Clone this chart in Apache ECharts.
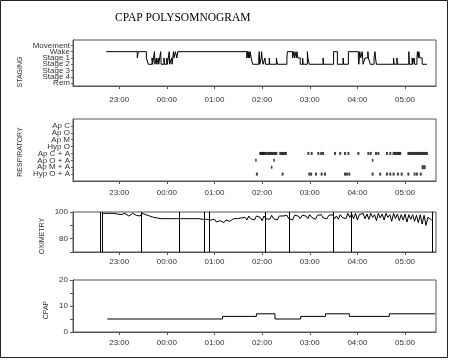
<!DOCTYPE html>
<html><head><meta charset="utf-8">
<script src="https://cdn.jsdelivr.net/npm/echarts@6/dist/echarts.min.js"></script>
<style>html,body{margin:0;padding:0;background:#fff}#c{width:450px;height:360px}</style>
</head><body><div id="c"></div>
<script>
// ---- tick labels (hours relative to midnight) ----
const hourTicks = [-1, 0, 1, 2, 3, 4, 5];
const hourLabels = ['23:00', '00:00', '01:00', '02:00', '03:00', '04:00', '05:00'];

// ---- staging ----
const stageNames = ['Rem', 'Stage 4', 'Stage 3', 'Stage 2', 'Stage 1', 'Wake', 'Movement'];
const stagingTimes = [-1.27,-0.62,-0.60,-0.43,-0.39,-0.31,-0.30,-0.26,-0.25,-0.22,-0.21,-0.18,-0.17,-0.13,-0.12,-0.06,-0.05,0.00,0.01,0.05,0.06,0.10,0.11,0.14,0.15,0.18,0.21,0.23,
  1.68,1.69,1.71,1.72,1.74,1.75,1.77,1.80,1.93,1.94,1.95,1.98,1.99,2.00,2.02,2.06,2.07,2.15,2.16,2.30,2.32,2.52,2.53,2.64,2.65,2.68,2.69,2.72,2.73,2.75,2.80,2.85,2.86,2.95,2.96,2.99,
  3.28,3.29,3.50,3.58,3.70,3.71,3.81,4.02,4.03,4.05,4.07,4.10,4.12,4.16,4.22,4.23,4.27,4.35,4.37,4.38,4.40,4.76,4.77,4.83,4.84,5.08,5.09,5.15,5.16,5.19,5.20,5.25,5.26,5.28,5.29,5.31,5.36,5.46];
const stagingLevels = [5,4,5,4,3,4,3,5,3,4,3,4,3,5,3,4,3,4,3,5,3,4,3,5,4,5,4,5,
  4,5,4,5,4,5,4,3,4,5,3,4,5,4,3,4,3,4,3,4,3,4,5,4,5,4,5,4,5,4,3,4,3,5,4,3,
  4,3,5,3,4,3,5,4,3,5,4,5,3,4,5,4,3,4,5,4,3,4,3,4,3,5,3,4,3,4,3,4,5,4,5,4,3,3];

// ---- respiratory ----
const respNames = ['Hyp O + A', 'Ap M + A', 'Ap O + A', 'Ap C + A', 'Hyp O', 'Ap M', 'Ap O', 'Ap C'];
const apCA = [1.96,1.98,2.00,2.02,2.04,2.07,2.09,2.13,2.15,2.18,2.21,2.24,2.27,2.30,2.38,2.41,2.44,2.47,2.50,2.97,3.04,3.18,3.24,3.28,3.53,3.64,3.74,3.81,4.02,4.23,4.28,4.39,4.44,4.62,4.69,4.76,4.79,4.82,4.85,4.88,4.90,5.07,5.10,5.13,5.16,5.19,5.22,5.25,5.28,5.31,5.34,5.37,5.40,5.43,5.46];
const apOA = [1.87, 2.25, 4.32];
const apMA = [2.20];
const apMABig = [5.39];
const hypOA = [1.89,2.43,2.99,3.03,3.13,3.25,3.32,3.74,3.78,3.83,4.32,4.48,4.62,4.69,4.76,4.85,4.93,5.07,5.20,5.25,5.33];

// ---- oximetry ----
const oxiStart = -1.36;   // first sample (h)
const oxiStep = 0.04;     // sampling interval (h)
const oxiValues = [
  99,98,99,98.5,99,98,99,97.5,98.5,99,98,98.5,99,98,97,98.5,99,98,97.5,98,97,
  99,98.5,98,97.5,97,96.5,96,96,95.5,
  95.5,95,95.5,95,95.5,95,95.5,95,94.5,95,95.5,95,94.5,95,95.5,95,95.5,95,94.5,95,95.5,95,95,94.5,
  95,94.5,95,94,93,94.5,92.5,94,93.5,94.5,92,94,95,93,94.5,95,93.5,95,94,95.5,94,
  96,94,97,95,96.5,94,97,95.5,96,93.5,97,95,96.5,94.5,97.5,95,96,94,97,95.5,97,96,97.5,95,96.5,94,97.5,96,97,95,97.5,96.5,97,95,98,96,97,94.5,97.5,96,98,95.5,97,95,97.5,96,98,95,97,94.5,98,96,97.5,95,
  99,96,98.5,95,99,94,98,96.5,99,95,98.5,94.5,99,96,98,93.5,99,95.5,98.5,94,99,96,98,93,99,95,98.5,93.5,98,94,98.5,92.5,98,94.5,98,93,97.5,92,98,91,97.5,90,96,97,94];
const oxiDropouts = [-1.385, -1.35, -0.53, 0.25, 0.79, 0.88, 2.07, 2.56, 3.50, 3.87, 5.58];

// ---- CPAP ----
const cpapTimes = [-1.25, 1.17, 1.88, 2.27, 2.81, 3.33, 3.83, 4.67, 5.63];
const cpapValues = [5, 6, 7, 5, 6, 7, 6, 7, 7];

// ---------------------------------------------------------------
const FONT = "'Liberation Sans', Arial, sans-serif";
const AX = '#555', TXT = '#333';
const X_MIN = -1.97, X_MAX = 5.65;
const GRID_W = 363;
const grids = [
  {left: 73, top: 40, width: GRID_W, height: 46},
  {left: 73, top: 119, width: GRID_W, height: 62},
  {left: 73, top: 212, width: GRID_W, height: 40},
  {left: 73, top: 280, width: GRID_W, height: 52}
].map(g => Object.assign({show: true, borderColor: AX, borderWidth: 1, backgroundColor: 'transparent'}, g));

function hourFmt(v) {
  const i = hourTicks.indexOf(Math.round(v));
  return (Math.abs(v - Math.round(v)) < 1e-6 && i >= 0) ? hourLabels[i] : '';
}
const xMargins = [10, 8, 6, 7];
const xAxes = grids.map((g, i) => ({
  type: 'value', gridIndex: i, min: X_MIN, max: X_MAX, position: 'bottom',
  splitLine: {show: false},
  axisLine: {show: true, onZero: false, lineStyle: {color: AX}},
  axisTick: {show: true, customValues: hourTicks, length: 3, lineStyle: {color: AX}},
  axisLabel: {customValues: hourTicks, formatter: hourFmt, fontSize: 8, fontFamily: FONT, color: TXT, margin: xMargins[i], interval: 0}
}));

const lbl = (extra) => Object.assign({fontSize: 8, fontFamily: FONT, color: TXT, showMinLabel: true, showMaxLabel: true, hideOverlap: false}, extra);
const idx = n => Array.from({length: n}, (_, i) => i);
const even = n => idx(n).filter(i => i % 2 === 0);
const odd = n => idx(n).filter(i => i % 2 === 1);

// Main y axes (left side). Label sets for the dense category-like axes are split
// between two co-located axes so neighbouring labels are not auto-hidden.
function mainY(gridIndex, min, max, ticks, labels, fmt, tickLen, margin) {
  return {type: 'value', gridIndex, min, max, position: 'left',
    splitLine: {show: false}, axisLine: {show: true, onZero: false, lineStyle: {color: AX}},
    axisTick: {customValues: ticks, length: tickLen, lineStyle: {color: AX}},
    axisLabel: lbl({customValues: labels, formatter: fmt, margin})};
}
function twinY(gridIndex, min, max, labels, fmt, margin) {
  return {type: 'value', gridIndex, min, max, position: 'right', offset: -GRID_W,
    splitLine: {show: false}, axisLine: {show: false, onZero: false},
    axisTick: {show: false},
    axisLabel: lbl({customValues: labels, formatter: fmt, margin, inside: true})};
}
const stageFmt = v => stageNames[Math.round(v)] || '';
const respFmt = v => respNames[Math.round(v)] || '';
const yAxes = [
  mainY(0, -0.45, 6.85, idx(7), even(7), stageFmt, 2, 3),
  mainY(1, -1, 8, idx(8), even(8), respFmt, 2, 3),
  mainY(2, 70, 100, [70, 80, 90, 100], [80, 100], undefined, 3, 5),
  mainY(3, 0, 20, [0, 5, 10, 15, 20], [0, 10, 20], undefined, 3, 5),
  twinY(0, -0.45, 6.85, odd(7), stageFmt, 3),
  twinY(1, -1, 8, odd(8), respFmt, 3)
];

const stagingData = stagingTimes.map((t, i) => [t, stagingLevels[i]]);
const oxiData = oxiValues.map((v, i) => [oxiStart + i * oxiStep, v]);
const cpapData = cpapTimes.map((t, i) => [t, cpapValues[i]]);
const ev = (arr, row) => arr.map(t => [t, row]);
const evStyle = {color: '#111'};

const series = [
  {type: 'line', xAxisIndex: 0, yAxisIndex: 0, data: stagingData, step: 'end', showSymbol: false,
   lineStyle: {color: '#000', width: 1}, animation: false},
  {type: 'scatter', xAxisIndex: 1, yAxisIndex: 1, data: ev(apCA, 3), symbol: 'rect', symbolSize: [2, 3], itemStyle: evStyle, animation: false},
  {type: 'scatter', xAxisIndex: 1, yAxisIndex: 1, data: ev(apOA, 2), symbol: 'rect', symbolSize: [1.5, 3], itemStyle: evStyle, animation: false},
  {type: 'scatter', xAxisIndex: 1, yAxisIndex: 1, data: ev(apMA, 1), symbol: 'rect', symbolSize: [1.5, 3], itemStyle: evStyle, animation: false},
  {type: 'scatter', xAxisIndex: 1, yAxisIndex: 1, data: ev(apMABig, 1), symbol: 'rect', symbolSize: [4, 4], itemStyle: evStyle, animation: false},
  {type: 'scatter', xAxisIndex: 1, yAxisIndex: 1, data: ev(hypOA, 0), symbol: 'rect', symbolSize: [2, 3], itemStyle: evStyle, animation: false},
  {type: 'line', xAxisIndex: 2, yAxisIndex: 2, data: oxiData, showSymbol: false, clip: true,
   lineStyle: {color: '#000', width: 1}, animation: false,
   markLine: {symbol: 'none', silent: true, animation: false, label: {show: false},
     lineStyle: {color: '#000', width: 1, type: 'solid'},
     data: oxiDropouts.map(t => ({xAxis: t}))}},
  {type: 'line', xAxisIndex: 3, yAxisIndex: 3, data: cpapData, step: 'end', showSymbol: false,
   lineStyle: {color: '#000', width: 1}, animation: false}
];

const axisNames = [
  {text: 'STAGING', x: 20.5, y: 72},
  {text: 'RESPIRATORY', x: 20.5, y: 152},
  {text: 'OXIMETRY', x: 42.5, y: 236},
  {text: 'CPAP', x: 46.5, y: 310}
];

const chart = echarts.init(document.getElementById('c'), null, {renderer: 'canvas'});
chart.setOption({
  animation: false,
  backgroundColor: '#fff',
  title: {text: 'CPAP POLYSOMNOGRAM', left: 110, top: 7,
    textStyle: {fontFamily: "'Liberation Serif', 'Times New Roman', serif", fontSize: 11.5, fontWeight: 'normal', color: '#000'}},
  grid: grids, xAxis: xAxes, yAxis: yAxes, series: series,
  graphic: [
    {type: 'rect', shape: {x: 0.5, y: 0.5, width: 447, height: 357}, style: {fill: 'none', stroke: '#222', lineWidth: 1}, silent: true}
  ].concat(axisNames.map(a => ({type: 'text', x: a.x, y: a.y, rotation: Math.PI / 2,
    style: {text: a.text, fontSize: 7, fontFamily: FONT, fill: TXT, align: 'center', verticalAlign: 'middle'}})))
});
</script>
</body></html>
